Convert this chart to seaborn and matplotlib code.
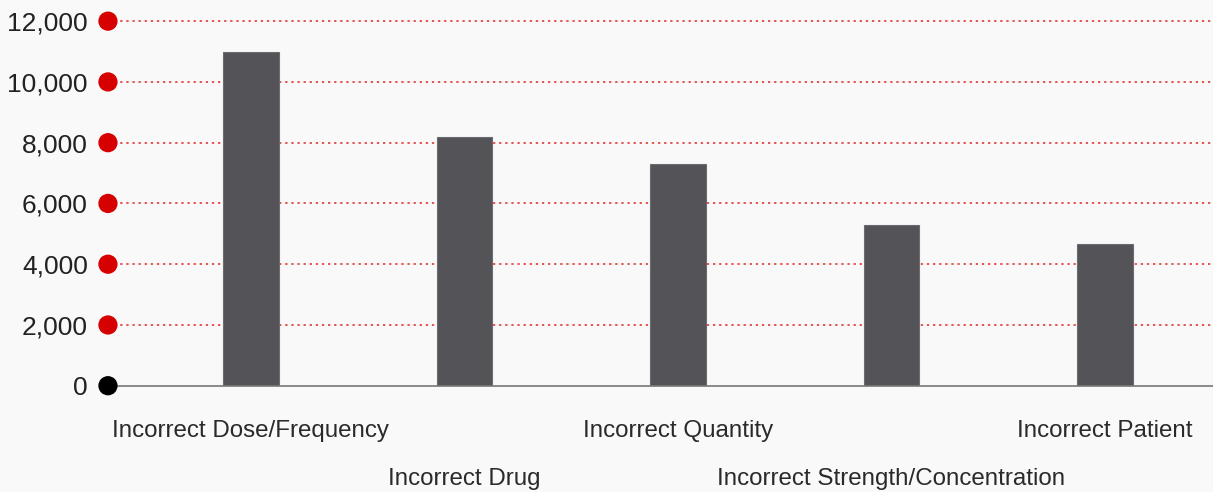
import pandas as pd
import matplotlib.pyplot as plt
import seaborn as sns

categories = ["Incorrect Dose/Frequency", "Incorrect Drug", "Incorrect Quantity",
              "Incorrect Strength/Concentration", "Incorrect Patient"]
counts = [10970, 8190, 7300, 5300, 4650]
yticks = [0, 2000, 4000, 6000, 8000, 10000, 12000]

df = pd.DataFrame({"category": categories, "count": counts})

sns.set_style("white")
plt.rcParams["font.family"] = ["Liberation Sans", "DejaVu Sans"]

bg = "#f9f9f9"
fig = plt.figure(figsize=(12.13, 4.92), dpi=100, facecolor=bg)
ax = fig.add_axes([0.089, 0.216, 0.911, 0.741], facecolor=bg)

sns.barplot(data=df, x="category", y="count", color="#545458", width=0.26,
            edgecolor="#6c6c70", linewidth=0.8, saturation=1, ax=ax, zorder=3)

ax.set_ylim(0, 12000)
ax.set_xlim(-0.67, 4.506)
ax.set_yticks(yticks)
ax.set_yticklabels([f"{v:,}" for v in yticks], fontsize=19, color="#222222")
ax.tick_params(axis="y", length=0, pad=14.5)
ax.tick_params(axis="x", length=6, width=1, color="#888888", direction="out")
ax.set_xticks(range(len(categories)))
ax.set_xticklabels([])
ax.set_xlabel("")
ax.set_ylabel("")

for s in ["top", "right", "left"]:
    ax.spines[s].set_visible(False)
ax.spines["bottom"].set_color("#777777")
ax.spines["bottom"].set_linewidth(1.2)
ax.spines["bottom"].set_zorder(4)

# dotted red gridlines
for v in yticks[1:]:
    ax.axhline(v, color="#e02828", linestyle=(0, (1.5, 2.5)), linewidth=1.1,
               zorder=1, clip_on=False)

# dots at the tick positions
dot_colors = ["black"] + ["#d60000"] * (len(yticks) - 1)
ax.scatter([0] * len(yticks), yticks, s=165, c=dot_colors, zorder=5, clip_on=False,
           transform=ax.get_yaxis_transform())

# staggered category labels
trans = ax.get_xaxis_transform()
for i, name in enumerate(categories):
    yoff = -0.123 if i % 2 == 0 else -0.255
    ax.text(i, yoff, name, ha="center", va="center", fontsize=17.4, color="#2a2a2a",
            transform=trans)

fig.savefig("out.png", dpi=100, facecolor=bg)
